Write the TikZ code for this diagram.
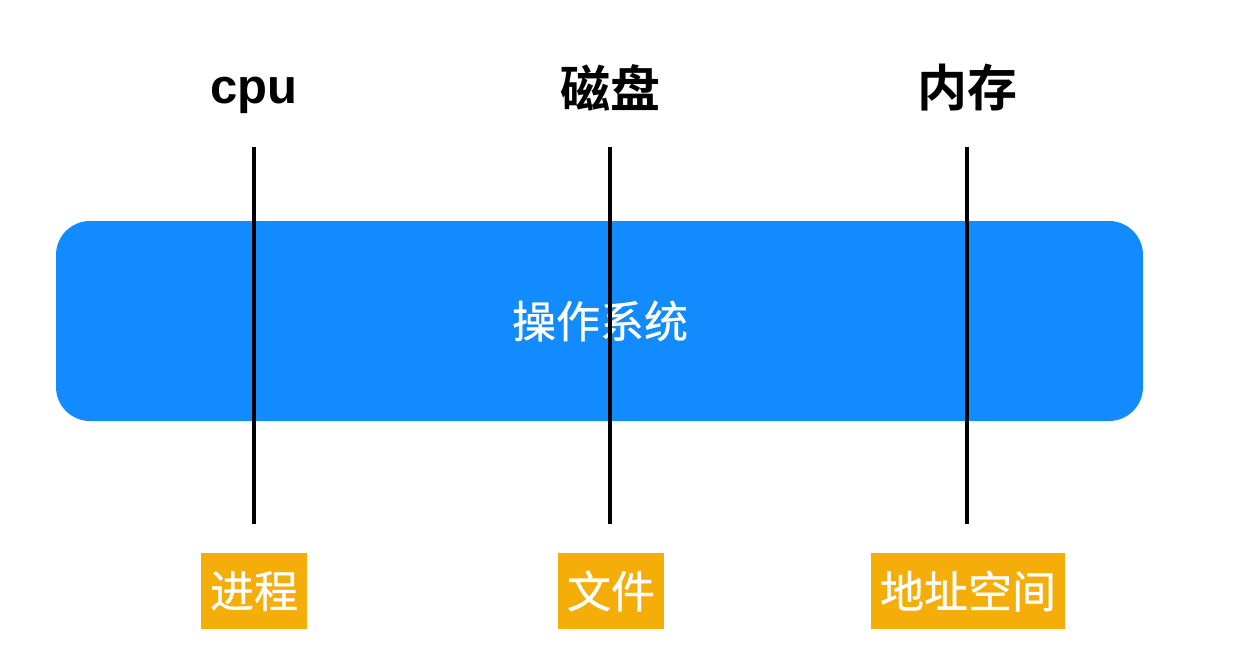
\documentclass[tikz,border=0pt]{standalone}
\usepackage{fontspec}
\setmainfont{Liberation Sans}
\newfontfamily\cjk{Noto Sans CJK SC}[FakeBold=0.6]
\newfontfamily\cjkbold{Noto Sans CJK SC Bold}
\definecolor{osblue}{RGB}{18,139,255}
\definecolor{taborange}{RGB}{245,173,10}
\tikzset{
  head/.style={font=\cjkbold\fontsize{25}{28}\selectfont,text=black},
  tag/.style={fill=taborange,text=white,font=\cjk\fontsize{22}{26}\selectfont,
    minimum height=38pt,inner xsep=4pt,inner ysep=0pt},
  pole/.style={line width=2pt,black}
}
\begin{document}
\begin{tikzpicture}[x=0.5pt,y=-0.5pt]
  \useasboundingbox (0,0) rectangle (1246,654);
  % the operating system band
  \fill[osblue,rounded corners=17pt] (56,221) rectangle (1143,421);
  \node[text=white,font=\cjk\fontsize{22}{26}\selectfont] (os) at (600,321) {操作系统};
  % headings
  \node[head,font=\bfseries\fontsize{24.5}{28}\selectfont,anchor=base] (cpu) at (254,103) {cpu};
  \node[head] (disk) at (610,88) {磁盘};
  \node[head] (mem) at (967,88) {内存};
  % tags
  \node[tag,minimum width=53pt] (proc) at (254,591) {进程};
  \node[tag,minimum width=53pt] (file) at (611,591) {文件};
  \node[tag,minimum width=97pt] (addr) at (968,591) {地址空间};
  % poles
  \coordinate (cputop) at (254,147);
  \coordinate (disktop) at (610,147);
  \coordinate (memtop) at (967,147);
  \draw[pole] (cputop) -- (254,524);
  \draw[pole] (disktop) -- (610,524);
  \draw[pole] (memtop) -- (967,524);
\end{tikzpicture}
\end{document}
